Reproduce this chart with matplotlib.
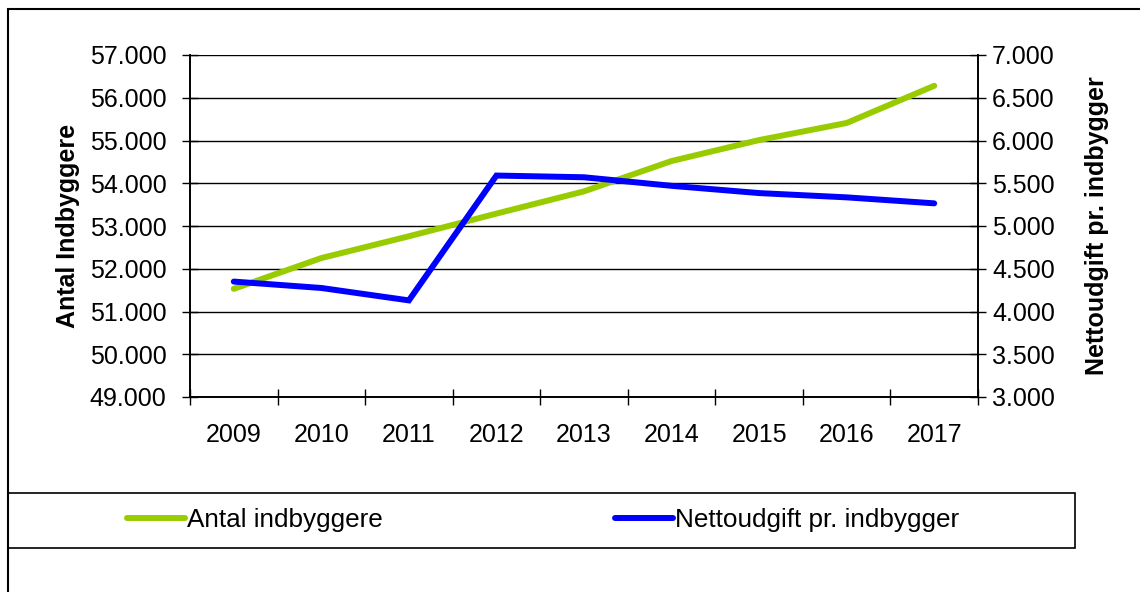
import numpy as np
import matplotlib.pyplot as plt
from matplotlib.patches import Rectangle
from matplotlib.ticker import FuncFormatter, MultipleLocator

plt.rcParams['font.family'] = ['Liberation Sans', 'DejaVu Sans']

years = ['2009', '2010', '2011', '2012', '2013', '2014', '2015', '2016', '2017']
indbyggere = [51530, 52250, 52760, 53290, 53810, 54520, 55010, 55410, 56280]
nettoudgift = [4350, 4275, 4130, 5590, 5570, 5470, 5385, 5335, 5265]

green = '#99cc00'
blue = '#0000ff'
fs = 18


def dot_fmt(v, pos):
    return f'{v:,.0f}'.replace(',', '.')


fig = plt.figure(figsize=(11.4, 5.92), dpi=100)
ax = fig.add_axes([190 / 1140, 1 - 397 / 592, 788 / 1140, 342 / 592])
ax2 = ax.twinx()

x = np.arange(len(years))
l1, = ax.plot(x, indbyggere, color=green, lw=4.3, solid_capstyle='round',
              solid_joinstyle='miter', label='Antal indbyggere', zorder=3)
l2, = ax2.plot(x, nettoudgift, color=blue, lw=4.3, solid_capstyle='round',
               solid_joinstyle='miter', label='Nettoudgift pr. indbygger', zorder=3)

ax.set_xlim(-0.5, len(years) - 0.5)
ax.set_ylim(49000, 57000)
ax2.set_ylim(3000, 7000)
ax.yaxis.set_major_locator(MultipleLocator(1000))
ax2.yaxis.set_major_locator(MultipleLocator(500))
ax.yaxis.set_major_formatter(FuncFormatter(dot_fmt))
ax2.yaxis.set_major_formatter(FuncFormatter(dot_fmt))

ax.set_xticks(x)
ax.set_xticklabels(years)
ax.set_xticks(np.arange(-0.5, len(years)), minor=True)
ax.tick_params(axis='x', which='major', length=0, pad=19, labelsize=fs)
ax.tick_params(axis='x', which='minor', direction='inout', length=12, width=1)
ax.tick_params(axis='y', direction='inout', length=12, width=1, labelsize=fs, pad=11)
ax2.tick_params(axis='y', direction='inout', length=12, width=1, labelsize=fs, pad=4)

ax.grid(axis='y', color='black', lw=1)
ax.set_axisbelow(True)
for a in (ax, ax2):
    a.spines['top'].set_visible(False)
    for s in ('left', 'right', 'bottom'):
        a.spines[s].set_linewidth(1.2)

ax.set_ylabel('Antal Indbyggere', fontsize=fs, fontweight='bold', labelpad=7)
ax2.set_ylabel('Nettoudgift pr. indbygger', fontsize=fs, fontweight='bold', labelpad=22)

# outer chart frame
fig.add_artist(Rectangle((8 / 1140, -0.2), 1.2, 1.2 - 9 / 592,
                         transform=fig.transFigure, fill=False,
                         edgecolor='black', lw=1.5))
# legend box
fig.add_artist(Rectangle((8 / 1140, 1 - 548 / 592), 1067 / 1140, 55 / 592,
                         transform=fig.transFigure, fill=False,
                         edgecolor='black', lw=1.2))
fig.legend(handles=[l1, l2], loc='center', bbox_to_anchor=(543 / 1140, 1 - 520 / 592),
           ncol=2, frameon=False, fontsize=18.8, handlelength=2.22,
           handletextpad=0.08, columnspacing=8.9)

fig.savefig('out.png', dpi=100)
